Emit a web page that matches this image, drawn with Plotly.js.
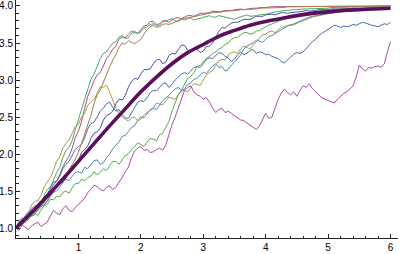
<!DOCTYPE html>
<html>
<head>
<meta charset="utf-8">
<script src="https://cdn.plot.ly/plotly-3.0.1.min.js"></script>
<style>html,body{margin:0;padding:0;background:#fff;}#chart{width:400px;height:254px;}</style>
</head>
<body>
<div id="chart"></div>
<script>
// shared time grid for the sample paths
const tGrid = [0,0.05,0.1,0.15,0.2,0.25,0.3,0.35,0.4,0.45,0.5,0.55,0.6,0.65,0.7,0.75,0.8,0.85,0.9,0.95,
1,1.05,1.1,1.15,1.2,1.25,1.3,1.35,1.4,1.45,1.5,1.55,1.6,1.65,1.7,1.75,1.8,1.85,1.9,1.95,
2,2.05,2.1,2.15,2.2,2.25,2.3,2.35,2.4,2.45,2.5,2.55,2.6,2.65,2.7,2.75,2.8,2.85,2.9,2.95,
3,3.05,3.1,3.15,3.2,3.25,3.3,3.35,3.4,3.45,3.5,3.55,3.6,3.65,3.7,3.75,3.8,3.85,3.9,3.95,
4,4.05,4.1,4.15,4.2,4.25,4.3,4.35,4.4,4.45,4.5,4.55,4.6,4.65,4.7,4.75,4.8,4.85,4.9,4.95,
5,5.05,5.1,5.15,5.2,5.25,5.3,5.35,5.4,5.45,5.5,5.55,5.6,5.65,5.7,5.75,5.8,5.85,5.9,5.95,6];

const pathViolet = [1.00,1.07,1.09,1.10,1.16,1.22,1.22,1.26,1.35,1.40,
1.41,1.43,1.49,1.58,1.62,1.61,1.68,1.79,1.84,1.84,
1.91,2.02,2.06,2.11,2.21,2.28,2.30,2.35,2.46,2.52,
2.54,2.58,2.68,2.74,2.73,2.79,2.90,2.98,3.02,3.01,
3.08,3.14,3.14,3.15,3.22,3.27,3.28,3.22,3.24,3.33,
3.36,3.35,3.41,3.47,3.47,3.40,3.38,3.43,3.42,3.37,
3.39,3.45,3.46,3.50,3.58,3.66,3.71,3.70,3.74,3.77,
3.78,3.78,3.80,3.82,3.82,3.82,3.84,3.86,3.86,3.86,
3.88,3.89,3.89,3.88,3.90,3.91,3.91,3.90,3.91,3.92,
3.92,3.92,3.93,3.94,3.93,3.93,3.94,3.95,3.95,3.94,
3.95,3.96,3.96,3.95,3.96,3.97,3.96,3.96,3.97,3.97,
3.97,3.96,3.97,3.98,3.98,3.97,3.98,3.98,3.98,3.98,3.98];

const pathPink = [1.00,1.05,1.04,1.11,1.15,1.16,1.21,1.29,1.34,1.35,
1.41,1.51,1.58,1.63,1.72,1.83,1.90,1.97,2.08,2.22,
2.31,2.44,2.62,2.78,2.88,2.99,3.07,3.10,3.19,3.29,
3.34,3.42,3.46,3.55,3.58,3.57,3.62,3.66,3.64,3.63,
3.68,3.73,3.74,3.79,3.79,3.75,3.76,3.80,3.80,3.78,
3.81,3.84,3.84,3.83,3.85,3.87,3.87,3.86,3.88,3.90,
3.90,3.90,3.91,3.93,3.92,3.92,3.93,3.94,3.94,3.94,
3.95,3.96,3.96,3.95,3.96,3.97,3.97,3.97,3.98,3.98,
3.98,3.99,3.99,3.99,3.99,3.99,3.99,4.00,3.99,4.00,
4.00,4.00,4.00,4.00,4.00,4.00,4.00,4.00,4.00,4.00,
4.00,4.00,4.00,4.00,4.00,4.00,4.00,4.00,4.00,4.00,
4.00,4.00,4.00,4.00,4.00,4.00,4.00,4.00,4.00,4.00,4.00];

const pathOlive = [1.00,1.10,1.14,1.12,1.20,1.31,1.36,1.37,1.44,1.55,
1.62,1.68,1.78,1.90,1.96,2.08,2.14,2.19,2.28,2.37,
2.40,2.50,2.55,2.66,2.70,2.74,2.82,2.91,2.90,2.93,
2.84,2.73,2.62,2.55,2.50,2.47,2.44,2.49,2.50,2.45,
2.47,2.53,2.56,2.58,2.62,2.69,2.68,2.66,2.72,2.77,
2.75,2.74,2.80,2.85,2.86,2.84,2.90,2.95,2.94,2.93,
3.00,3.07,3.10,3.13,3.20,3.26,3.28,3.27,3.34,3.37,
3.38,3.36,3.42,3.46,3.44,3.42,3.47,3.52,3.56,3.61,
3.62,3.65,3.66,3.64,3.68,3.71,3.72,3.74,3.75,3.74,
3.77,3.79,3.80,3.82,3.83,3.85,3.86,3.87,3.88,3.89,
3.90,3.90,3.91,3.92,3.92,3.93,3.93,3.93,3.94,3.95,
3.95,3.94,3.95,3.96,3.96,3.95,3.96,3.97,3.97,3.96,3.97];

const pathGreenTop = [1.00,1.04,1.06,1.11,1.13,1.21,1.27,1.28,1.33,1.44,
1.52,1.56,1.64,1.75,1.82,1.95,2.05,2.09,2.18,2.33,
2.47,2.60,2.74,2.90,3.01,3.08,3.18,3.29,3.36,3.38,
3.44,3.50,3.52,3.58,3.60,3.56,3.57,3.63,3.66,3.63,
3.65,3.70,3.72,3.75,3.76,3.73,3.74,3.78,3.80,3.82,
3.83,3.80,3.79,3.82,3.81,3.83,3.84,3.81,3.82,3.84,
3.85,3.86,3.87,3.85,3.85,3.87,3.86,3.84,3.84,3.83,
3.82,3.84,3.85,3.87,3.88,3.86,3.86,3.87,3.88,3.88,
3.89,3.90,3.91,3.91,3.92,3.93,3.94,3.94,3.95,3.95,
3.95,3.96,3.96,3.96,3.96,3.97,3.97,3.97,3.97,3.97,
3.97,3.98,3.98,3.98,3.98,3.98,3.98,3.99,3.99,3.99,
3.99,3.99,3.99,3.99,3.99,4.00,4.00,4.00,4.00,4.00,4.00];

const pathBlue = [1.00,1.08,1.12,1.13,1.18,1.26,1.30,1.29,1.34,1.42,
1.46,1.55,1.62,1.63,1.70,1.80,1.86,1.90,1.98,2.06,
2.10,2.13,2.22,2.34,2.41,2.43,2.50,2.58,2.62,2.68,
2.70,2.63,2.58,2.60,2.53,2.49,2.48,2.55,2.62,2.70,
2.72,2.71,2.76,2.83,2.86,2.85,2.90,2.95,2.96,2.90,
2.94,3.00,3.04,3.08,3.10,3.08,3.12,3.17,3.18,3.17,
3.22,3.28,3.30,3.29,3.33,3.37,3.36,3.32,3.30,3.25,
3.28,3.34,3.38,3.34,3.36,3.40,3.41,3.36,3.38,3.37,
3.34,3.35,3.32,3.30,3.29,3.25,3.23,3.27,3.31,3.35,
3.37,3.36,3.38,3.43,3.47,3.52,3.55,3.60,3.63,3.66,
3.68,3.71,3.74,3.73,3.71,3.73,3.72,3.73,3.75,3.74,
3.76,3.78,3.77,3.75,3.74,3.73,3.72,3.74,3.76,3.75,3.78];

const pathMagenta = [1.00,0.97,1.04,1.01,0.98,1.03,1.06,1.08,1.02,1.05,
1.08,1.16,1.24,1.20,1.18,1.26,1.30,1.24,1.22,1.28,
1.32,1.35,1.40,1.48,1.52,1.58,1.56,1.52,1.50,1.55,
1.57,1.52,1.55,1.62,1.68,1.76,1.82,1.95,2.04,2.08,
2.10,2.05,2.06,2.02,2.03,2.06,2.08,2.05,2.12,2.26,
2.40,2.50,2.62,2.76,2.86,2.90,2.92,2.84,2.80,2.78,
2.74,2.76,2.70,2.62,2.56,2.60,2.62,2.56,2.58,2.55,
2.52,2.49,2.46,2.45,2.42,2.38,2.35,2.33,2.38,2.47,
2.55,2.48,2.50,2.62,2.74,2.82,2.88,2.83,2.80,2.84,
2.78,2.86,2.92,2.90,2.95,2.88,2.84,2.80,2.76,2.74,
2.72,2.70,2.69,2.74,2.78,2.82,2.84,2.88,2.92,3.04,
3.20,3.15,3.12,3.17,3.16,3.18,3.19,3.17,3.22,3.38,3.52];

const pathBrown = [1.00,1.05,1.08,1.07,1.12,1.19,1.24,1.23,1.28,1.34,
1.36,1.45,1.52,1.55,1.61,1.69,1.74,1.78,1.86,1.93,
2.02,2.14,2.28,2.41,2.52,2.68,2.80,2.86,2.97,3.06,
3.18,3.27,3.34,3.44,3.50,3.48,3.53,3.51,3.49,3.52,
3.55,3.62,3.68,3.72,3.74,3.71,3.72,3.75,3.76,3.75,
3.77,3.79,3.80,3.82,3.83,3.84,3.85,3.86,3.87,3.87,
3.88,3.89,3.90,3.91,3.91,3.91,3.92,3.93,3.93,3.93,
3.94,3.94,3.95,3.95,3.96,3.96,3.96,3.96,3.97,3.97,
3.97,3.97,3.98,3.98,3.98,3.98,3.98,3.99,3.99,3.99,
3.99,3.99,3.99,3.99,3.99,3.99,3.99,4.00,4.00,4.00,
4.00,4.00,4.00,4.00,4.00,4.00,4.00,4.00,4.00,4.00,
4.00,4.00,4.00,4.00,4.00,4.00,4.00,4.00,4.00,4.00,4.00];

const pathGreenMid = [1.00,1.06,1.05,1.10,1.12,1.18,1.20,1.17,1.24,1.30,
1.32,1.39,1.38,1.43,1.42,1.48,1.50,1.47,1.54,1.60,
1.60,1.66,1.64,1.68,1.70,1.76,1.72,1.75,1.80,1.78,
1.84,1.90,1.90,1.86,1.92,1.98,2.00,2.06,2.10,2.15,
2.13,2.10,2.16,2.21,2.20,2.18,2.26,2.28,2.36,2.44,
2.58,2.70,2.80,2.86,2.94,3.02,3.05,3.10,3.18,3.20,
3.24,3.29,3.32,3.36,3.38,3.42,3.44,3.48,3.50,3.55,
3.57,3.58,3.61,3.64,3.64,3.62,3.63,3.66,3.67,3.70,
3.72,3.74,3.76,3.77,3.79,3.81,3.82,3.84,3.85,3.87,
3.88,3.89,3.90,3.91,3.92,3.92,3.93,3.94,3.94,3.94,
3.95,3.95,3.95,3.96,3.96,3.96,3.96,3.97,3.97,3.97,
3.97,3.96,3.97,3.98,3.98,3.97,3.98,3.98,3.98,3.98,3.98];

const pathTeal = [1.00,1.07,1.10,1.17,1.22,1.16,1.18,1.25,1.30,1.31,
1.36,1.44,1.48,1.50,1.55,1.62,1.66,1.64,1.70,1.75,
1.76,1.74,1.82,1.80,1.86,1.91,1.92,1.86,1.88,1.95,
2.00,2.07,2.12,2.16,2.24,2.25,2.30,2.36,2.38,2.46,
2.50,2.49,2.54,2.60,2.62,2.60,2.66,2.72,2.76,2.79,
2.84,2.88,2.90,2.86,2.88,2.94,2.96,3.01,3.02,3.07,
3.10,3.09,3.14,3.19,3.22,3.17,3.18,3.12,3.14,3.20,
3.24,3.29,3.34,3.42,3.46,3.48,3.50,3.54,3.53,3.51,
3.55,3.59,3.60,3.63,3.65,3.68,3.70,3.73,3.74,3.76,
3.78,3.80,3.82,3.83,3.85,3.86,3.87,3.88,3.89,3.89,
3.90,3.91,3.91,3.91,3.92,3.93,3.93,3.93,3.94,3.95,
3.95,3.94,3.95,3.96,3.96,3.95,3.96,3.97,3.97,3.96,3.97];

// mean curve
const meanT = [0,0.25,0.5,0.75,1.0,1.25,1.5,1.75,2.0,2.25,2.5,2.75,3.0,3.25,3.5,3.75,4.0,4.25,4.5,4.75,5.0,5.25,5.5,5.75,6.0];
const meanY = [1.00,1.21,1.43,1.66,1.90,2.14,2.38,2.61,2.84,3.04,3.22,3.37,3.48,3.59,3.67,3.74,3.79,3.83,3.87,3.90,3.92,3.94,3.95,3.96,3.97];

const xTicks = [1,2,3,4,5,6];
const yTicks = [1.0,1.5,2.0,2.5,3.0,3.5,4.0];
const yTickText = ["1.0","1.5","2.0","2.5","3.0","3.5","4.0"];

const paths = [
  {y: pathViolet, c: "#4f4cae"},
  {y: pathPink, c: "#a84e82"},
  {y: pathOlive, c: "#a89b4c"},
  {y: pathGreenTop, c: "#4caa68"},
  {y: pathBlue, c: "#4b6aab"},
  {y: pathMagenta, c: "#a84ca2"},
  {y: pathBrown, c: "#a87c4c"},
  {y: pathGreenMid, c: "#54aa4c"},
  {y: pathTeal, c: "#4c8bab"}
];

const traces = paths.map(p => ({
  x: tGrid, y: p.y, type: "scatter", mode: "lines",
  line: {color: p.c, width: 1}, hoverinfo: "skip"
}));
traces.push({
  x: meanT, y: meanY, type: "scatter", mode: "lines",
  line: {color: "#5c0f5c", width: 3.6, shape: "spline"}, hoverinfo: "skip"
});

const axisFont = {family: "Liberation Sans, Arial, sans-serif", size: 10, color: "#000"};
const layout = {
  width: 400, height: 254,
  margin: {l: 16, r: 2, t: 0, b: 16, pad: 0},
  paper_bgcolor: "#fff", plot_bgcolor: "#fff",
  showlegend: false,
  xaxis: {
    range: [0, 6.12], showgrid: false, zeroline: false,
    showline: true, linecolor: "#222", linewidth: 1,
    tickmode: "array", tickvals: xTicks, ticktext: xTicks.map(String),
    ticks: "inside", ticklen: 4, tickcolor: "#222", tickwidth: 1,
    minor: {dtick: 0.2, tick0: 0, ticks: "inside", ticklen: 2.5, tickcolor: "#222", tickwidth: 1, showgrid: false},
    tickfont: axisFont, automargin: false, fixedrange: true
  },
  yaxis: {
    range: [0.865, 4.081], showgrid: false, zeroline: false,
    showline: true, linecolor: "#222", linewidth: 1,
    tickmode: "array", tickvals: yTicks, ticktext: yTickText,
    ticks: "inside", ticklen: 4, tickcolor: "#222", tickwidth: 1,
    minor: {dtick: 0.1, tick0: 0, ticks: "inside", ticklen: 2.5, tickcolor: "#222", tickwidth: 1, showgrid: false},
    tickfont: axisFont, automargin: false, fixedrange: true
  }
};
Plotly.newPlot("chart", traces, layout, {displayModeBar: false, staticPlot: true});
</script>
</body>
</html>
